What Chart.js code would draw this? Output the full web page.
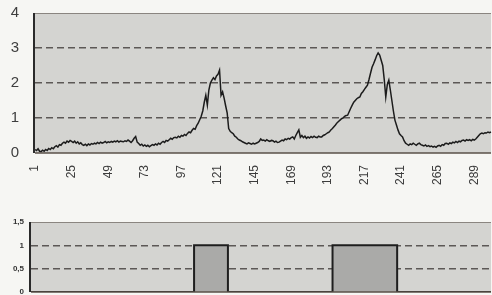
<!DOCTYPE html>
<html lang="en">
<head>
  <meta charset="UTF-8">
  <title>Series with event windows</title>
  <script src="https://cdn.jsdelivr.net/npm/chart.js"></script>
  <style>
    * { margin: 0; padding: 0; box-sizing: border-box; }
    body { background-color: #f6f6f3; width: 492px; height: 295px; overflow: hidden; }
    .top { position: absolute; left: 0; top: 0; width: 492px; height: 210px; }
    .bottom { position: absolute; left: 0; top: 210px; width: 492px; height: 85px; }
  </style>
</head>
<body>
  <div class="top"><canvas id="seriesChart"></canvas></div>
  <div class="bottom"><canvas id="windowChart"></canvas></div>

<script>
  // top series, one value per sample (1..300)
  const values = [
    0.10,0.07,0.12,0.05,0.04,0.08,0.05,0.10,0.07,0.13,
    0.10,0.15,0.12,0.18,0.21,0.17,0.24,0.22,0.28,0.31,
    0.28,0.34,0.31,0.36,0.33,0.30,0.34,0.28,0.32,
    0.26,0.29,0.24,0.22,0.25,0.21,0.26,0.23,0.27,0.25,
    0.28,0.26,0.30,0.27,0.31,0.28,0.30,0.33,0.29,0.32,
    0.30,0.33,0.31,0.34,0.32,0.35,0.31,0.34,0.33,
    0.32,0.35,0.33,0.37,0.34,0.30,0.35,0.42,0.47,0.31,
    0.27,0.22,0.25,0.20,0.23,0.19,0.22,0.18,0.21,0.24,
    0.22,0.26,0.23,0.28,0.25,0.30,0.33,0.30,0.36,0.34,
    0.38,0.42,0.39,0.44,0.45,0.43,0.48,0.45,0.50,
    0.48,0.53,0.50,0.56,0.60,0.58,0.65,0.70,0.68,0.78,
    0.85,0.95,1.05,1.20,1.45,1.65,1.37,1.80,2.00,2.08,
    2.15,2.10,2.20,2.25,2.37,1.65,1.75,1.57,1.35,1.15,
    0.70,0.62,0.58,0.55,0.48,0.45,0.40,0.37,0.35,0.32,
    0.30,0.28,0.26,0.29,0.27,0.25,0.28,0.26,0.28,0.30,
    0.33,0.40,0.36,0.37,0.34,0.38,0.35,0.33,0.36,
    0.35,0.31,0.34,0.30,0.31,0.34,0.37,0.35,0.40,0.38,
    0.42,0.40,0.44,0.46,0.40,0.50,0.58,0.66,0.45,0.50,
    0.44,0.48,0.42,0.46,0.43,0.47,0.44,0.48,0.45,
    0.44,0.48,0.46,0.46,0.50,0.52,0.55,0.58,0.60,0.66,
    0.70,0.75,0.80,0.86,0.90,0.94,0.98,1.00,1.05,1.07,
    1.08,1.18,1.28,1.37,1.45,1.50,1.55,1.58,1.60,1.70,
    1.75,1.82,1.88,1.94,2.10,2.28,2.45,2.55,2.66,2.78,
    2.86,2.80,2.65,2.50,2.10,1.60,1.95,2.08,1.80,1.50,
    1.20,0.94,0.80,0.66,0.55,0.50,0.46,0.35,0.28,0.25,
    0.22,0.26,0.24,0.28,0.25,0.22,0.26,0.28,0.24,0.22,
    0.20,0.23,0.19,0.21,0.18,0.20,0.17,0.19,0.16,0.20,
    0.22,0.19,0.24,0.22,0.27,0.28,0.25,0.29,0.27,0.31,
    0.29,0.33,0.30,0.34,0.32,0.36,0.37,0.34,0.38,0.36,
    0.38,0.35,0.39,0.37,0.40,0.45,0.50,0.55,0.57,0.55,
    0.58,0.57,0.60,0.58,0.60
  ];
  const xTickLabels = ['1','25','49','73','97','121','145','169','193','217','241','265','289'];

  // bottom step series: sample where the state changes, and the new state
  const stepX = [1, 107, 129, 197, 239, 300];
  const stepY = [0, 1, 0, 1, 0, 0];
  const windowTicks = ['0', '0,5', '1', '1,5'];

  const categories = values.map((v, i) => String(i + 1));

  const frame = {
    id: 'frame',
    beforeDraw(chart) {
      const { ctx, chartArea: a } = chart;
      ctx.save();
      ctx.fillStyle = '#d4d4d1';
      ctx.fillRect(a.left, a.top, a.right - a.left, a.bottom - a.top);
      ctx.restore();
    },
    afterDraw(chart) {
      const { ctx, chartArea: a } = chart;
      ctx.save();
      ctx.strokeStyle = '#8a8580';
      ctx.lineWidth = 1;
      ctx.beginPath();
      ctx.moveTo(a.left, a.top + 0.5);
      ctx.lineTo(a.right, a.top + 0.5);
      ctx.stroke();
      ctx.strokeStyle = '#5a5048';
      ctx.lineWidth = 1.5;
      ctx.beginPath();
      ctx.moveTo(a.left, a.bottom);
      ctx.lineTo(a.right, a.bottom);
      ctx.stroke();
      ctx.strokeStyle = '#2a2a2a';
      ctx.lineWidth = 2;
      ctx.beginPath();
      ctx.moveTo(a.left - 1, a.top);
      ctx.lineTo(a.left - 1, a.bottom);
      ctx.stroke();
      ctx.restore();
    }
  };

  const dashed = [7, 4];

  // pin the y scale so the plot box sits where the reference has it
  function fixY(width) {
    return scale => {
      scale.width = width;
      scale.paddingTop = 0;
      scale.paddingBottom = 0;
    };
  }

  new Chart(document.getElementById('seriesChart'), {
    type: 'line',
    data: {
      labels: categories,
      datasets: [{
        data: values,
        borderColor: '#1c1c1c',
        borderWidth: 1.5,
        pointRadius: 0,
        tension: 0
      }]
    },
    options: {
      animation: false,
      responsive: true,
      maintainAspectRatio: false,
      layout: { padding: { top: 13, right: 1, left: 0, bottom: 0 } },
      plugins: { legend: { display: false }, tooltip: { enabled: false } },
      scales: {
        x: {
          grid: { display: false, drawTicks: false },
          border: { display: false },
          afterFit(scale) {
            scale.height = 57;
            scale.paddingLeft = 0;
            scale.paddingRight = 0;
          },
          ticks: {
            autoSkip: false,
            minRotation: 90,
            maxRotation: 90,
            padding: 12,
            color: '#3c3c3c',
            font: { family: 'Liberation Sans', size: 12 },
            callback(val, i) {
              const s = String(i + 1);
              return xTickLabels.includes(s) ? s : '';
            }
          }
        },
        y: {
          min: 0,
          max: 4,
          afterFit: fixY(35),
          grid: {
            drawTicks: false,
            lineWidth: 1.5,
            color: c => (c.tick.value > 0 && c.tick.value < 4) ? '#5c5856' : 'transparent'
          },
          border: { display: false, dash: dashed },
          ticks: {
            stepSize: 1,
            padding: 16,
            color: '#3e3e3e',
            font: { family: 'Liberation Sans', size: 15 }
          }
        }
      }
    },
    plugins: [frame]
  });

  new Chart(document.getElementById('windowChart'), {
    type: 'line',
    data: {
      datasets: [{
        data: stepX.map((x, i) => ({ x: x, y: stepY[i] })),
        stepped: true,
        fill: 'origin',
        backgroundColor: '#aaaaa8',
        borderColor: '#1e1e1e',
        borderWidth: 2,
        pointRadius: 0
      }]
    },
    options: {
      animation: false,
      responsive: true,
      maintainAspectRatio: false,
      layout: { padding: { top: 12, right: 1, left: 0, bottom: 3 } },
      plugins: { legend: { display: false }, tooltip: { enabled: false } },
      scales: {
        x: { type: 'linear', min: 1, max: values.length, display: false },
        y: {
          min: 0,
          max: 1.5,
          afterFit: fixY(31),
          grid: {
            drawTicks: false,
            lineWidth: 1.5,
            color: c => (c.tick.value > 0 && c.tick.value < 1.5) ? '#5c5856' : 'transparent'
          },
          border: { display: false, dash: dashed },
          ticks: {
            stepSize: 0.5,
            padding: 7,
            color: '#333',
            font: { family: 'Liberation Sans', size: 8, weight: 'bold' },
            callback: (val, i) => windowTicks[i]
          }
        }
      }
    },
    plugins: [frame]
  });
</script>
</body>
</html>
